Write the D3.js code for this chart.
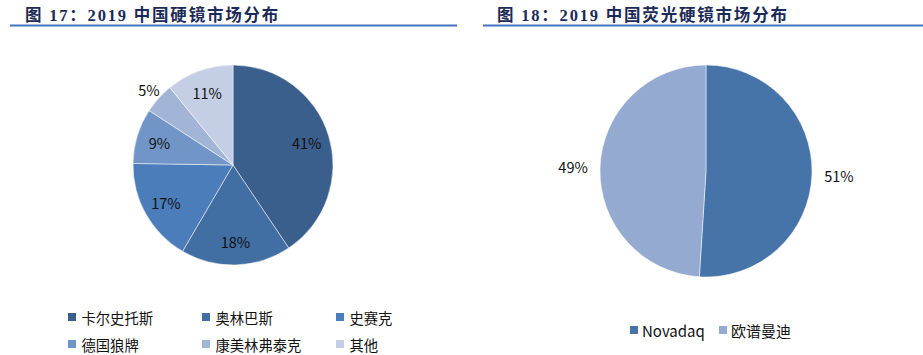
<!DOCTYPE html>
<html><head><meta charset="utf-8">
<script src="https://cdn.jsdelivr.net/npm/d3@7"></script>
<style>body{margin:0;background:#fff;}svg{display:block;}</style>
</head><body>
<svg id="c" width="923" height="355"></svg>
<script>
const title1 = "图 17：2019 中国硬镜市场分布";
const title2 = "图 18：2019 中国荧光硬镜市场分布";
const cats1 = ["卡尔史托斯","奥林巴斯","史赛克","德国狼牌","康美林弗泰克","其他"];
const vals1 = [41,18,17,9,5,11];
const colors1 = ["#3a5f8c","#416ea3","#4a7dba","#7295c8","#a2b5d7","#c4cee4"];
const cats2 = ["Novadaq","欧谱曼迪"];
const vals2 = [51,49];
const colors2 = ["#4673a8","#94aad1"];

const svg = d3.select("#c");
const titleFont = "'Liberation Serif','Noto Sans CJK SC',serif";
const bodyFont = "'Noto Sans CJK SC','Open Sans',sans-serif";

// titles and rules
[[title1,25,10,457],[title2,497,483,923]].forEach(([t,x,x1,x2])=>{
  svg.append("text").attr("x",x).attr("y",21).text(t)
    .attr("font-family",titleFont).attr("font-weight","bold").attr("font-size",16.5)
    .attr("letter-spacing",1.8)
    .attr("fill","#1b2a57");
  svg.append("line").attr("x1",x1).attr("x2",x2).attr("y1",25.5).attr("y2",25.5)
    .attr("stroke","#4472c4").attr("stroke-width",2);
});

function drawPie(cats, vals, colors, cx, cy, r, labelR, outsideIdx, outsideR){
  const pie = d3.pie().sort(null).value(d=>d)(vals);
  const arc = d3.arc().innerRadius(0).outerRadius(r);
  const g = svg.append("g").attr("transform",`translate(${cx},${cy})`);
  g.selectAll("path").data(pie).join("path")
    .attr("d",arc).attr("fill",(d,i)=>colors[i])
    .attr("stroke","#fff").attr("stroke-width",0.5);
  g.selectAll("text").data(pie).join("text")
    .attr("transform",(d,i)=>{
      const lr = outsideIdx.includes(i) ? outsideR : labelR;
      const c = d3.arc().innerRadius(lr).outerRadius(lr).centroid(d);
      return `translate(${c[0]},${c[1]})`;
    })
    .attr("text-anchor","middle").attr("dominant-baseline","central")
    .attr("font-family",bodyFont).attr("font-size",14.5).attr("fill","#111")
    .text((d,i)=>vals[i]+"%");
}

drawPie(cats1, vals1, colors1, 233, 165, 100, 77, [4], 113);
drawPie(cats2, vals2, colors2, 706, 171, 106, 133, [0,1], 133);

// legend 1
const lg1 = svg.append("g");
cats1.forEach((c,i)=>{
  const col = i%3, row = Math.floor(i/3);
  const x = 68 + col*134, y = 317 + row*27;
  lg1.append("rect").attr("x",x).attr("y",y-4).attr("width",8).attr("height",8).attr("fill",colors1[i]);
  lg1.append("text").attr("x",x+13.5).attr("y",y).attr("dominant-baseline","central")
    .attr("font-family",bodyFont).attr("font-size",14.3).attr("fill","#111").text(c);
});
// legend 2
const lx2 = [630, 719];
cats2.forEach((c,i)=>{
  const x = lx2[i], y = 330;
  svg.append("rect").attr("x",x).attr("y",y-4).attr("width",8).attr("height",8).attr("fill",colors2[i]);
  svg.append("text").attr("x",x+12).attr("y",y).attr("dominant-baseline","central")
    .attr("font-family",bodyFont).attr("font-size",15).attr("fill","#111").text(c);
});
</script>
</body></html>
